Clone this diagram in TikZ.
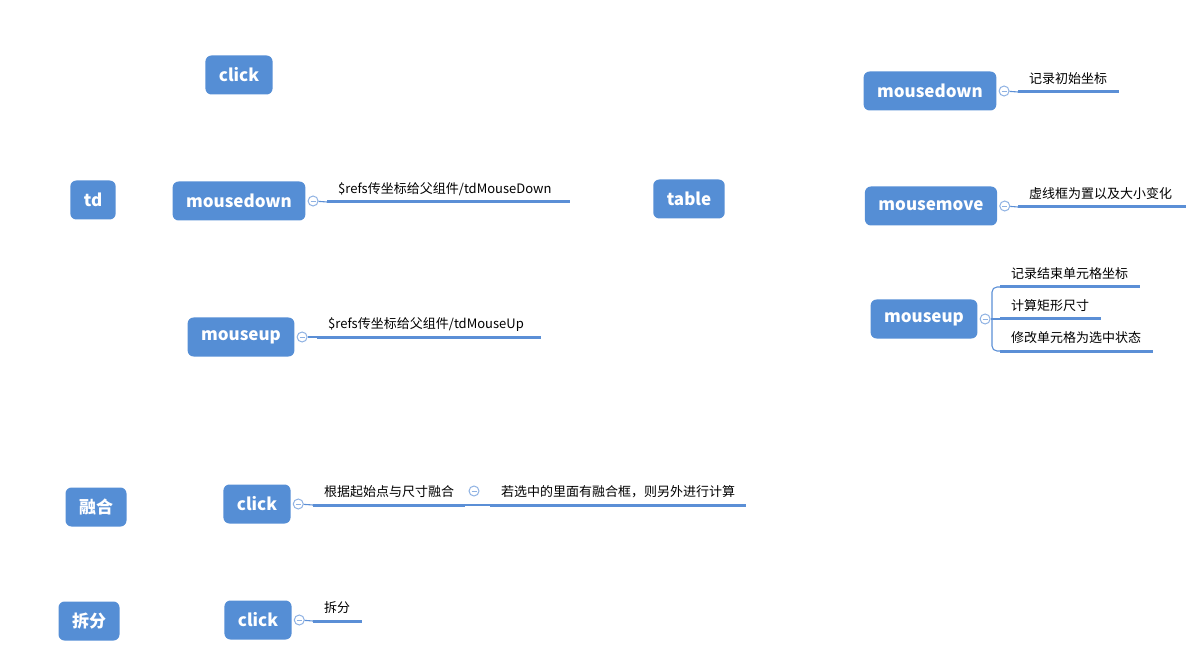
\documentclass[tikz,border=0pt]{standalone}
\usepackage{fontspec}
\setmainfont{Noto Sans CJK SC}
\usetikzlibrary{positioning}
\definecolor{topicblue}{HTML}{558ED5}
\definecolor{lineblue}{HTML}{5B8FD6}
\definecolor{foldblue}{HTML}{8FB2E3}
\tikzset{
  topic/.style={fill=topicblue, text=white, rounded corners=6pt, minimum height=39pt,
    inner xsep=13.5pt, font=\fontsize{17}{20}\selectfont\bfseries},
  fold/.style={circle, draw=foldblue, fill=white, line width=1pt, minimum size=10pt, inner sep=0pt,
    path picture={\draw[foldblue, line width=0.9pt] ([xshift=-2.5pt]path picture bounding box.center) -- ([xshift=2.5pt]path picture bounding box.center);}},
  leaf/.style={anchor=south west, align=left, inner xsep=11pt, inner ysep=5pt, text depth=3pt,
    font=\fontsize{13}{16}\selectfont,
    append after command={(\tikzlastnode.south west) edge[draw=lineblue, line width=3pt] (\tikzlastnode.south east)}},
  conn/.style={draw=lineblue, line width=1.1pt}
}
\begin{document}
\begin{tikzpicture}[x=1pt, y=-1pt]
\useasboundingbox (0,0) rectangle (1202,660);
% td
\node[topic] (clk) at (239,75) {click};
\node[topic] (td) at (93,200) {td};
\node[topic] (md) at (239,201) {mousedown};
\node[topic] (mu) at (241,337) {mouseup};
\node[fold, right=2pt of md] (mdf) {};
\node[fold, right=2pt of mu] (muf) {};
\node[leaf, text width=221pt] (mdl) at (327,202) {\$refs传坐标给父组件/tdMouseDown};
\node[leaf, text width=202pt] (mul) at (317,337) {\$refs传坐标给父组件/tdMouseUp};
\draw[conn] (mdf) -- (mdl.south west);
\draw[conn] (muf) -- (mul.south west);
% table
\node[topic] (tbl) at (689,199) {table};
\node[topic] (tmd) at (930,91) {mousedown};
\node[topic] (tmm) at (931,206) {mousemove};
\node[topic] (tmu) at (924,319) {mouseup};
\node[fold, right=2pt of tmd] (tmdf) {};
\node[fold, right=2pt of tmm] (tmmf) {};
\node[fold, right=2pt of tmu] (tmuf) {};
\node[leaf, text width=79pt] (tmdl) at (1018,92) {记录初始坐标};
\node[leaf, text width=146pt] (tmml) at (1018,207) {虚线框为置以及大小变化};
\node[leaf, text width=118pt] (endl) at (1000,287) {记录结束单元格坐标};
\node[leaf, text width=79pt] (sizel) at (1000,319) {计算矩形尺寸};
\node[leaf, text width=131pt] (sell) at (1000,351) {修改单元格为选中状态};
\draw[conn] (tmdf) -- (tmdl.south west);
\draw[conn] (tmmf) -- (tmml.south west);
\coordinate (br) at (992,319);
\draw[conn] (tmuf) -- (sizel.south west);
\draw[conn, rounded corners=5pt] (br) |- (endl.south west);
\draw[conn, rounded corners=5pt] (br) |- (sell.south west);
% merge
\node[topic] (mrg) at (96,507) {融合};
\node[topic] (mclk) at (257,504) {click};
\node[fold, right=2pt of mclk] (mclkf) {};
\node[leaf, text width=130pt] (mpos) at (313,505) {根据起始点与尺寸融合};
\node[fold] (mposf) at (474,491) {};
\node[leaf, text width=234pt] (mcalc) at (490,505) {若选中的里面有融合框，则另外进行计算};
\draw[conn] (mclkf) -- (mpos.south west);
\draw[conn] (mpos.south east) -- (mcalc.south west);
% split
\node[topic] (spl) at (89,621) {拆分};
\node[topic] (sclk) at (258,620) {click};
\node[fold, right=2pt of sclk] (sclkf) {};
\node[leaf, text width=27pt] (sdo) at (313,621) {拆分};
\draw[conn] (sclkf) -- (sdo.south west);
\end{tikzpicture}
\end{document}
